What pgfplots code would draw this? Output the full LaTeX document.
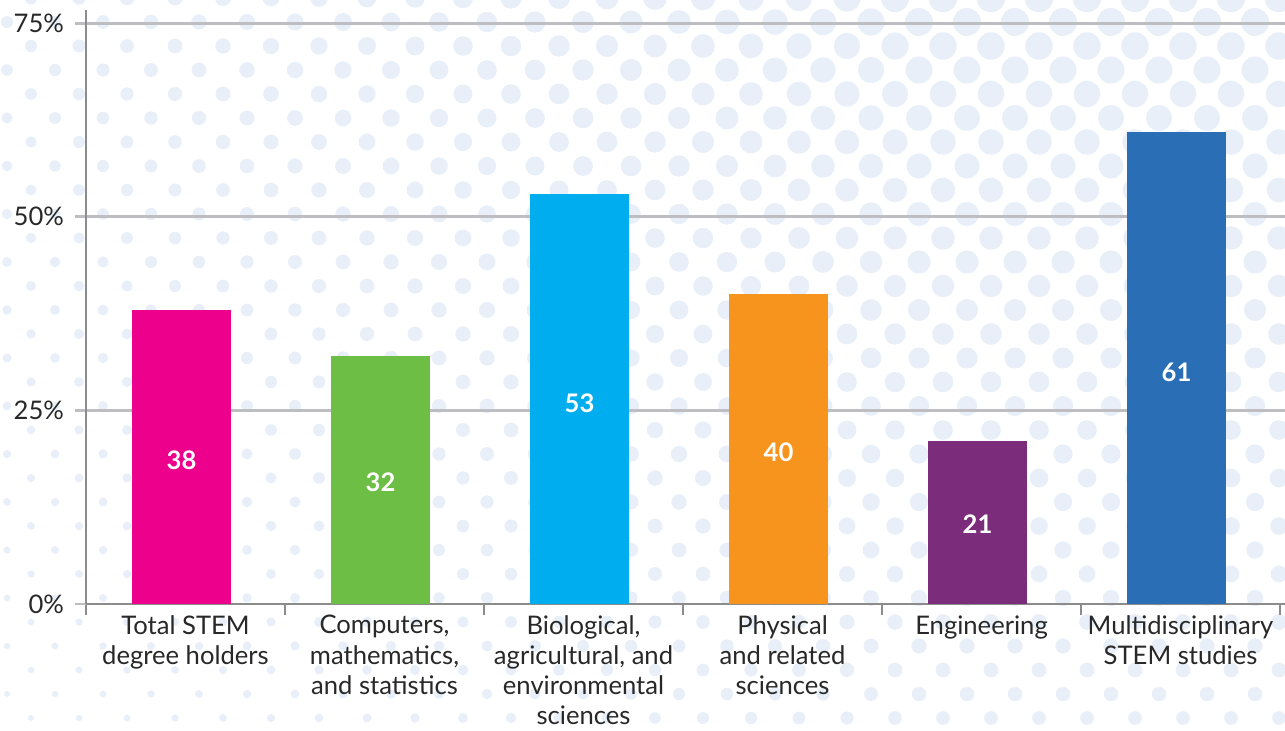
\documentclass[border=0pt]{standalone}
\usepackage{pgfplots}
\pgfplotsset{compat=1.18}
\usepackage{fontspec}
\setmainfont{Lato}
\definecolor{dotc}{RGB}{232,239,248}
\definecolor{pinkc}{HTML}{EC008C}
\definecolor{greenc}{HTML}{6DBE45}
\definecolor{cyanc}{HTML}{00AEEF}
\definecolor{orangec}{HTML}{F7941D}
\definecolor{purplec}{HTML}{7B2D7C}
\definecolor{bluec}{HTML}{2A6EB5}
\definecolor{gridc}{RGB}{190,190,194}
\definecolor{axisc}{RGB}{140,140,140}
\definecolor{textc}{RGB}{40,40,40}
\begin{document}
\begin{tikzpicture}
\useasboundingbox (-43pt,-63pt) rectangle (599.5pt,302pt);
\begin{scope}
\clip (-43pt,-63pt) rectangle (599.5pt,302pt);
\foreach \k in {0,...,31}{
  \foreach \j in {0,...,27}{
    \pgfmathsetmacro{\X}{7 + 24*(1-mod(\k,2)) + 48*\j}
    \pgfmathsetmacro{\Y}{-2 + 24*\k}
    \pgfmathsetmacro{\D}{min(28.5, 12+0.018*\X)*(1-0.00072*\Y)}
    \fill[dotc] ({(\X-86)*0.5pt},{(604-\Y)*0.5pt}) circle ({\D*0.25pt});
  }
}
\end{scope}
\begin{axis}[
  at={(0,0)}, anchor=south west,
  scale only axis,
  width=599.5pt, height=297pt,
  xmin=0, xmax=6.025, ymin=0, ymax=76.7,
  axis lines=left,
  axis line style={-, draw=axisc, line width=1.4pt},
  ytick={0,25,50,75},
  yticklabels={0\%,25\%,50\%,75\%},
  ymajorgrids,
  grid style={draw=gridc, line width=1.4pt},
  tick align=outside,
  major tick length=5.5pt,
  minor tick length=5.5pt,
  y tick style={draw=gridc, line width=1.4pt},
  xtick={0.5,1.5,2.5,3.5,4.5,5.5},
  xticklabels={{Total STEM\\degree holders},{Computers,\\mathematics,\\and statistics},{Biological,\\agricultural, and\\environmental\\sciences},{Physical\\and related\\sciences},{Engineering},{Multidisciplinary\\STEM studies}},
  minor xtick={0,1,2,3,4,5,6},
  major x tick style={draw=none},
  minor x tick style={draw=axisc, line width=1.4pt},
  ticklabel style={font=\fontsize{12.8}{15.1}\selectfont, text=textc},
  xticklabel style={align=center, anchor=north, inner sep=0pt, yshift=0pt},
  yticklabel style={xshift=-2pt},
  ybar, bar shift=0pt, bar width=0.5,
  nodes near coords={\pgfmathprintnumber[assume math mode=true]{\pgfplotspointmeta}},
  visualization depends on={y \as \rawy},
  nodes near coords style={font=\fontsize{12.8}{14}\selectfont\bfseries, text=white, anchor=center, shift={(axis direction cs:0,-\rawy*0.51)}},
  clip=false,
]
\addplot[fill=pinkc, draw=none] coordinates {(0.48,38)};
\addplot[fill=greenc, draw=none] coordinates {(1.48,32)};
\addplot[fill=cyanc, draw=none] coordinates {(2.48,53)};
\addplot[fill=orangec, draw=none] coordinates {(3.48,40)};
\addplot[fill=purplec, draw=none] coordinates {(4.48,21)};
\addplot[fill=bluec, draw=none] coordinates {(5.48,61)};
\end{axis}
\end{tikzpicture}
\end{document}
